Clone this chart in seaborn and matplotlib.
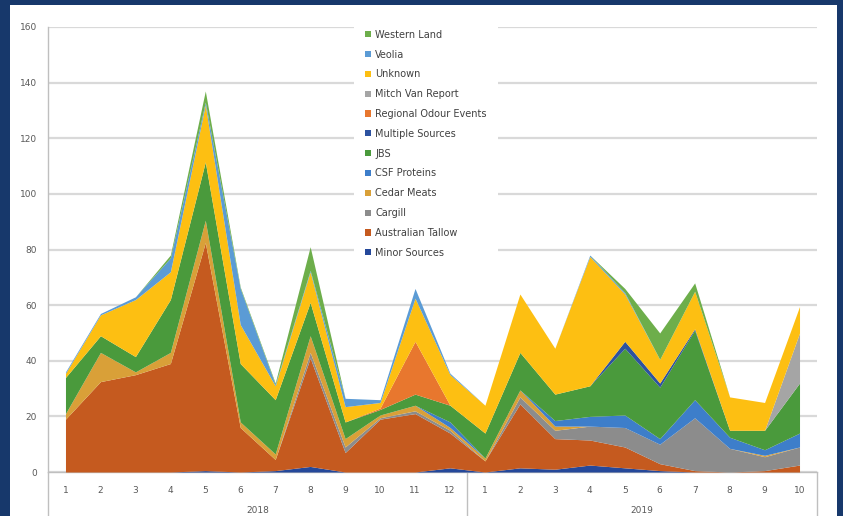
import numpy as np
import seaborn as sns
import matplotlib
matplotlib.use("Agg")
import matplotlib.pyplot as plt

# months along the category axis (2018: 1-12, 2019: 1-10)
months = [str(m) for m in range(1, 13)] + [str(m) for m in range(1, 11)]
years = ["2018", "2019"]

# series in stacking order (bottom first)
sources = ["Minor Sources", "Australian Tallow", "Cargill", "Cedar Meats", "CSF Proteins", "JBS",
           "Multiple Sources", "Regional Odour Events", "Mitch Van Report", "Unknown", "Veolia",
           "Western Land"]

minor_sources = [0, 0, 0, 0, 0.5, 0, 0.5, 2, 0, 0, 0, 1.5,
                 0, 1.5, 1, 2.5, 1.5, 0.5, 0, 0, 0, 0]
australian_tallow = [19, 32.5, 35, 39, 82, 16, 4, 39, 7, 19, 21, 12.5,
                     4, 23, 11, 9, 7.5, 2.5, 0.5, 0, 0.5, 2.5]
cargill = [0, 0, 0, 0, 0, 0, 0, 2, 2, 0.5, 1, 1,
           0, 2.5, 3, 5, 7, 7, 19, 8.5, 5, 6.5]
cedar_meats = [2, 10.5, 1, 4, 8, 2, 2, 6, 3, 1, 2, 1,
               1, 2.5, 1.5, 0, 0, 0, 0, 0, 0.5, 0]
csf_proteins = [0, 0, 0, 0, 0, 0, 0, 0, 0, 0, 0, 2,
                0, 0, 2, 3.5, 4.5, 2, 6.5, 4, 2, 5]
jbs = [13, 6, 5.5, 19, 21, 21, 19.5, 12, 6, 2, 4, 6,
       9, 13.5, 9.5, 11, 24, 18.5, 25, 2.5, 7, 18]
multiple_sources = [0, 0, 0, 0, 0, 0, 0, 0, 0, 0, 0, 0,
                    0, 0, 0, 0, 2.5, 1.5, 0.5, 0, 0, 0]
regional_odour = [0, 0, 0, 0, 0, 0, 0, 0, 0, 0.5, 19, 0,
                  0, 0, 0, 0, 0, 0, 0, 0, 0, 0]
mitch_van = [0, 0, 0, 0, 0, 0, 0, 0, 0, 0, 0, 0,
             0, 0, 0, 0, 0, 0, 0, 0, 0, 18]
unknown = [1.5, 7.5, 20.5, 10, 20.5, 14, 5, 11, 5.5, 2, 15.5, 11,
           10, 21, 16.5, 46.5, 17, 8.5, 13.5, 12, 10, 9.5]
veolia = [0.5, 0.5, 1, 5, 1, 13, 0.5, 0.5, 3, 1, 3.5, 0.5,
          0, 0, 0, 0.5, 0.5, 0, 0, 0, 0, 0]
western_land = [0, 0, 0, 1, 4, 0.5, 0.5, 8.5, 0, 0, 0, 0,
                0, 0, 0, 0, 1.5, 9.5, 3, 0, 0, 0]

colors = ["#25489A", "#C55A1F", "#8C8C8C", "#D9A038", "#3D7ECA", "#4A9A3C",
          "#2D52A0", "#E8772E", "#A5A5A5", "#FDBF12", "#5B9BD5", "#6DAE4B"]

series = [minor_sources, australian_tallow, cargill, cedar_meats, csf_proteins, jbs,
          multiple_sources, regional_odour, mitch_van, unknown, veolia, western_land]

sns.set_style("white")
plt.rcParams['font.family'] = ['DejaVu Sans']

fig = plt.figure(figsize=(8.43, 5.16), dpi=100)
fig.patch.set_facecolor("#17386B")
# white chart panel
fig.patches.append(plt.Rectangle((10 / 843, 0), 827 / 843, 1 - 5 / 516,
                                 transform=fig.transFigure, facecolor="white",
                                 edgecolor="none", zorder=-10))

ax = fig.add_axes([48 / 843, 1 - 472 / 516, (817 - 48) / 843, (472 - 27) / 516])
ax.set_zorder(2)
ax.set_facecolor("none")

x = np.arange(len(months))
polys = ax.stackplot(x, *series, colors=colors, labels=sources, linewidth=0, zorder=3)

ax.set_xlim(-0.5, len(months) - 0.5)
ax.set_ylim(0, 160)
ax.set_yticks(range(0, 161, 20))
ax.yaxis.grid(True, color="#D9D9D9", linewidth=1.6, zorder=1)
ax.xaxis.grid(False)

ax.set_xticks(x)
ax.set_xticklabels(months)
ax.tick_params(axis="both", length=0, labelsize=6.5, labelcolor="#595959")
ax.tick_params(axis="x", pad=10)
ax.tick_params(axis="y", pad=8)

sns.despine(ax=ax, top=True, right=True)
for side in ["left", "bottom"]:
    ax.spines[side].set_color("#BFBFBF")
    ax.spines[side].set_linewidth(1.0)

# multi-level category axis: separators and year labels
tr = ax.get_xaxis_transform()
for xs in [-0.5, 11.5, len(months) - 0.5]:
    ax.plot([xs, xs], [0, -0.1], transform=tr, color="#BFBFBF", linewidth=1.0, clip_on=False)
ax.text(5.5, -0.086, years[0], transform=tr, ha="center", va="center",
        fontsize=6.5, color="#595959")
ax.text(16.5, -0.086, years[1], transform=tr, ha="center", va="center",
        fontsize=6.5, color="#595959")

handles, labels = ax.get_legend_handles_labels()
leg = ax.legend(handles[::-1], labels[::-1], loc="upper left",
                bbox_to_anchor=(354 / 843, 1 - 19 / 516), bbox_transform=fig.transFigure,
                fontsize=7, frameon=True, facecolor="white", edgecolor="none",
                framealpha=1, handlelength=0.6, handleheight=0.6, handletextpad=0.5,
                labelspacing=1.01, borderpad=1.1, borderaxespad=0)
leg.set_zorder(5)
for t in leg.get_texts():
    t.set_color("#404040")

fig.savefig("out.png", dpi=100, facecolor=fig.get_facecolor())
